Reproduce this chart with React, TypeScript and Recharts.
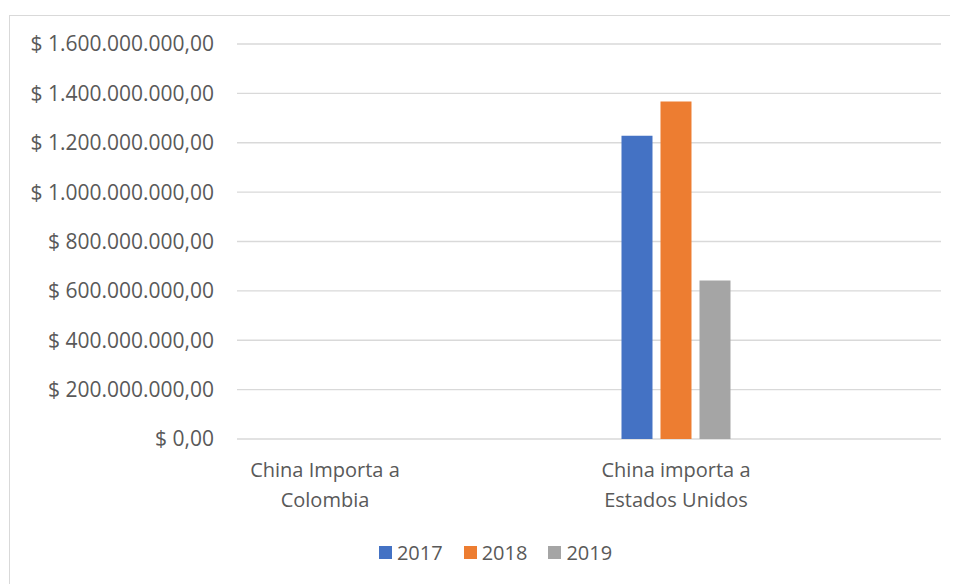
import { BarChart, Bar, XAxis, YAxis, CartesianGrid, Legend } from 'recharts';

const categories = ['China Importa a\nColombia', 'China importa a\nEstados Unidos'];
const years = ['2017', '2018', '2019'];
const imports2017 = [0, 1228000000];
const imports2018 = [0, 1367000000];
const imports2019 = [0, 642000000];
const yTicks = [0, 200000000, 400000000, 600000000, 800000000, 1000000000, 1200000000, 1400000000, 1600000000];

const COLORS = ['#4472C4', '#ED7D31', '#A5A5A5'];
const TEXT = '#595959';

const data = categories.map((name, i) => ({
  x: i,
  name,
  y2017: imports2017[i],
  y2018: imports2018[i],
  y2019: imports2019[i],
}));

// "$ 1.600.000.000,00"
const formatMoney = (v: number) => {
  const int = Math.round(v).toString().replace(/\B(?=(\d{3})+(?!\d))/g, '.');
  return `$ ${int},00`;
};

const CategoryTick = ({ x, y, payload }: any) => {
  const lines = (categories[payload.value] || '').split('\n');
  return (
    <text x={x} y={y} textAnchor="middle" fill={TEXT} fontSize={20}>
      {lines.map((line, i) => (
        <tspan key={i} x={x} y={y + 38 + i * 30}>
          {line}
        </tspan>
      ))}
    </text>
  );
};

const LegendContent = ({ payload }: any) => (
  <div
    style={{
      display: 'flex',
      justifyContent: 'center',
      alignItems: 'center',
      gap: 21,
      height: 28,
      paddingLeft: 42,
    }}
  >
    {(payload || []).map((entry: any) => (
      <div key={entry.value} style={{ display: 'flex', alignItems: 'center', color: TEXT, fontSize: 20 }}>
        <span style={{ width: 13, height: 13, background: entry.color, marginRight: 5, display: 'inline-block' }} />
        {entry.value}
      </div>
    ))}
  </div>
);

export default function App() {
  return (
    <div
      style={{
        position: 'relative',
        width: 950,
        height: 576,
        overflow: 'hidden',
        fontFamily: '"Open Sans", sans-serif',
        background: '#fff',
      }}
    >
      <div
        style={{
          position: 'absolute',
          left: 1,
          top: 7,
          width: 1000,
          height: 700,
          border: '1px solid #d9d9d9',
        }}
      />
      <div style={{ position: 'absolute', left: 0, top: 0 }}>
        <BarChart
          width={974}
          height={576}
          data={data}
          margin={{ top: 36, right: 41, bottom: 0, left: 0 }}
          barSize={31}
          barGap={8}
        >
          <CartesianGrid vertical={false} stroke="#d9d9d9" strokeWidth={1.3} />
          <XAxis
            dataKey="x"
            type="number"
            domain={[-0.2507, 1.755]}
            ticks={[0, 1]}
            interval={0}
            axisLine={false}
            tickLine={false}
            tickSize={0}
            tickMargin={0}
            height={117}
            tick={<CategoryTick />}
          />
          <YAxis
            width={229}
            domain={[0, 1600000000]}
            ticks={yTicks}
            interval={0}
            axisLine={false}
            tickLine={false}
            tickMargin={17}
            tickFormatter={formatMoney}
            tick={{ fill: TEXT, fontSize: 21 }}
          />
          <Legend
            verticalAlign="bottom"
            content={<LegendContent />}
            wrapperStyle={{ bottom: 18 }}
          />
          {years.map((yr, i) => (
            <Bar key={yr} dataKey={`y${yr}`} name={yr} fill={COLORS[i]} isAnimationActive={false} />
          ))}
        </BarChart>
      </div>
    </div>
  );
}
